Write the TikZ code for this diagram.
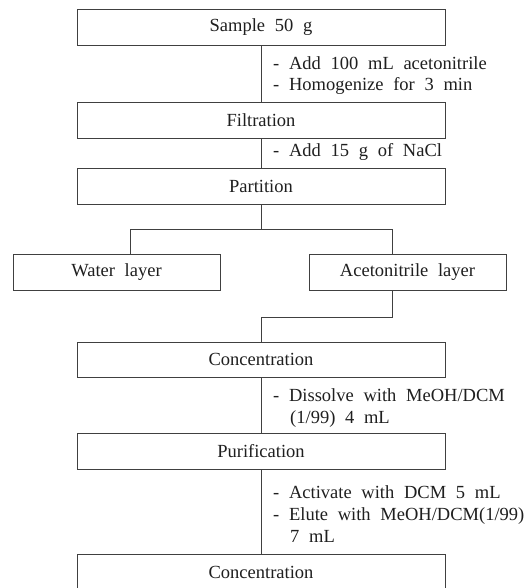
\documentclass[tikz,border=0pt]{standalone}
\usepackage{fontspec}
\setmainfont{Liberation Serif}[WordSpace=2.1]
\begin{document}
\begin{tikzpicture}[x=1pt,y=-1pt,
  every node/.style={font=\fontsize{18.5}{22}\selectfont, text=black!88},
  stepbox/.style={draw=black!75, line width=0.9pt, rectangle, minimum width=368pt, minimum height=36pt, inner sep=0pt},
  link/.style={draw=black!75, line width=0.9pt},
  note/.style={anchor=base west, inner sep=0pt}]
\useasboundingbox (0,0) rectangle (529,588);
\clip (0,0) rectangle (529,588);
\fill[white] (0,0) rectangle (529,588);

\node[stepbox] (sample) at (261,27) {Sample 50 g};
\node[stepbox] (filt) at (261,120) {Filtration};
\node[stepbox] (part) at (261,186) {Partition};
\node[stepbox, minimum width=207pt] (water) at (116.5,272) {Water layer};
\node[stepbox, minimum width=197pt] (aceto) at (407.5,272) {Acetonitrile layer};
\node[stepbox, minimum height=35pt] (conc1) at (261,359.5) {Concentration};
\node[stepbox] (puri) at (261,451) {Purification};
\node[stepbox] (conc2) at (261,572) {Concentration};

\coordinate (split) at (261,229);
\coordinate (wl) at (130,229);
\coordinate (ar) at (392,229);
\coordinate (join) at (261,317);

\draw[link] (sample.south) -- (filt.north);
\draw[link] (filt.south) -- (part.north);
\draw[link] (part.south) -- (split);
\draw[link] (wl) -- (ar);
\draw[link] (wl) -- (wl |- water.north);
\draw[link] (ar) -- (ar |- aceto.north);
\draw[link] (ar |- aceto.south) |- (join) -- (conc1.north);
\draw[link] (conc1.south) -- (puri.north);
\draw[link] (puri.south) -- (conc2.north);

\node[note] (n1a) at (273,69.5) {- Add 100 mL acetonitrile};
\node[note] (n1b) at (273,91) {- Homogenize for 3 min};
\node[note] (n2a) at (273,157) {- Add 15 g of NaCl};
\node[note] (n3a) at (273,401) {- Dissolve with MeOH/DCM};
\node[note] (n3b) at (290,423) {(1/99) 4 mL};
\node[note] (n4a) at (273,498) {- Activate with DCM 5 mL};
\node[note] (n4b) at (273,520) {- Elute with MeOH/DCM(1/99)};
\node[note] (n4c) at (290,542) {7 mL};
\end{tikzpicture}
\end{document}
